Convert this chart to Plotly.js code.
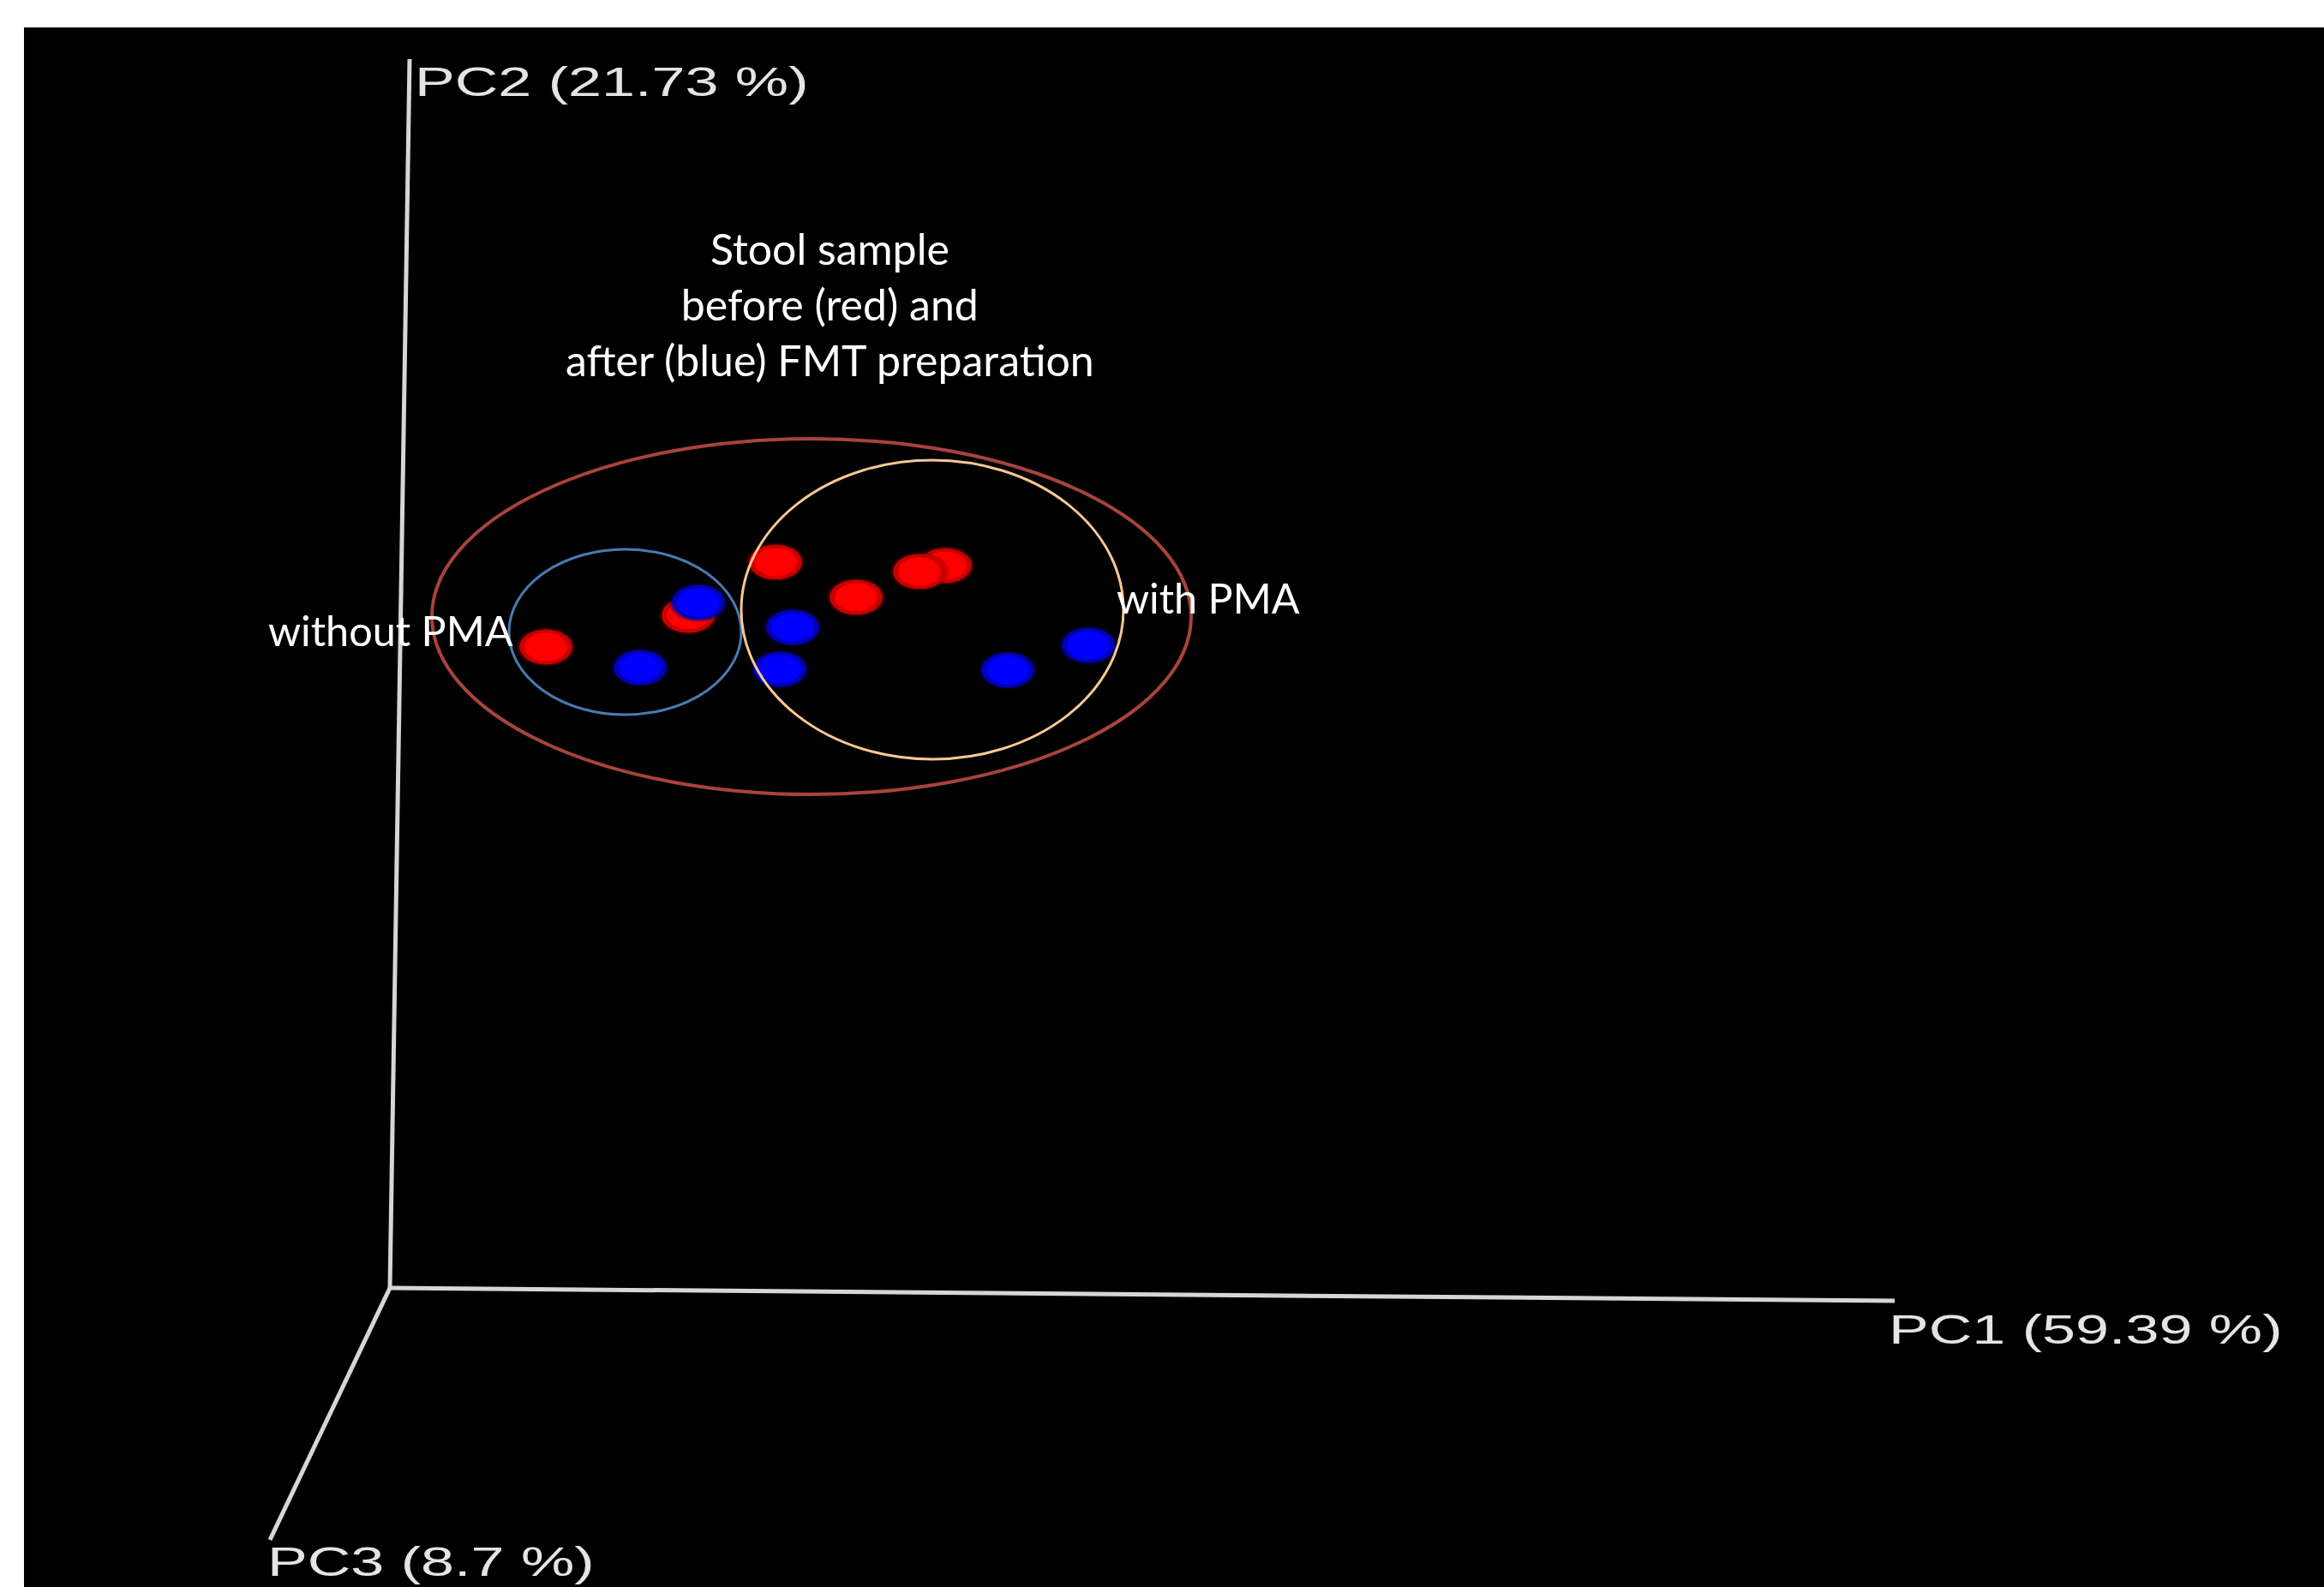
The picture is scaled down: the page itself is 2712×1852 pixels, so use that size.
<!DOCTYPE html>
<html>
<head>
<meta charset="utf-8">
<script src="https://cdn.plot.ly/plotly-3.0.1.min.js"></script>
<style>
  html, body { margin: 0; padding: 0; background: #ffffff; }
  #plot { width: 2712px; height: 1852px; }
</style>
</head>
<body>
<div id="plot"></div>
<script>
// PCoA ordination, projected view (PC1 to the right, PC2 up, PC3 toward the viewer)
const pcLabels = ['PC1 (59.39 %)', 'PC2 (21.73 %)', 'PC3 (8.7 %)'];
const axisEndX = [17.56, 0.23, -1.40];
const axisEndY = [-0.15, 14.34, -2.94];

// Stool samples before FMT preparation (red), back-to-front order
const beforeX = [6.48, 6.18, 4.50, 5.44, 1.82, 3.48];
const beforeY = [8.43, 8.36, 8.47, 8.06, 7.48, 7.85];
// Stool samples after FMT preparation (blue)
const afterX = [3.60, 4.70, 4.55, 2.92, 7.21, 8.15];
const afterY = [8.00, 7.71, 7.22, 7.24, 7.21, 7.50];

// Group outlines: all samples, without PMA, with PMA
const groupX0 = [0.49, 1.39, 4.10];
const groupX1 = [9.35, 4.10, 8.56];
const groupY0 = [5.76, 6.69, 6.17];
const groupY1 = [9.91, 8.62, 9.66];

const headerLines = ['Stool sample', 'before (red) and', 'after (blue) FMT preparation'];
const groupLabels = ['without PMA', 'with PMA'];

// ---- styling ----
const AXIS_COLOR = '#d6d6d6';
const LABEL_COLOR = '#e4e4e4';
const RING_COLORS = ['#a8433d', '#4a7ab2', '#f6c892'];
const RING_WIDTHS = [4, 3, 3];
const DOT_RX = 0.31, DOT_RY = 0.205;   // half-width / half-height of each sample dot
const STRETCH = 1.46;                   // horizontal stretch of the axis captions

const traces = [];
// axis lines from the origin
pcLabels.forEach((name, i) => {
  traces.push({
    type: 'scatter', mode: 'lines',
    x: [0, axisEndX[i]], y: [0, axisEndY[i]],
    line: { color: AXIS_COLOR, width: 5 },
    hoverinfo: 'skip', showlegend: false, name: name
  });
});
// sample positions (hover layer)
traces.push({
  type: 'scatter', mode: 'markers', name: 'before FMT preparation',
  x: beforeX, y: beforeY, marker: { color: '#ff0000', size: 40, opacity: 0 },
  showlegend: false
});
traces.push({
  type: 'scatter', mode: 'markers', name: 'after FMT preparation',
  x: afterX, y: afterY, marker: { color: '#0000ff', size: 40, opacity: 0 },
  showlegend: false
});

const shapes = [];
function addDot(cx, cy, edge, core, halo) {
  const layers = [
    { k: 1.10, c: halo, o: 0.35 },
    { k: 1.00, c: edge, o: 1 },
    { k: 0.80, c: core, o: 1 }
  ];
  layers.forEach(L => {
    shapes.push({
      type: 'circle', xref: 'x', yref: 'y', layer: 'above',
      x0: cx - DOT_RX * L.k, x1: cx + DOT_RX * L.k,
      y0: cy - DOT_RY * L.k, y1: cy + DOT_RY * L.k,
      fillcolor: L.c, opacity: L.o, line: { width: 0 }
    });
  });
}
beforeX.forEach((x, i) => addDot(x, beforeY[i], '#c80000', '#ff0000', '#800000'));
afterX.forEach((x, i) => addDot(x, afterY[i], '#0000b8', '#0000ff', '#000060'));

groupX0.forEach((x0, i) => {
  shapes.push({
    type: 'circle', xref: 'x', yref: 'y', layer: 'above',
    x0: x0, x1: groupX1[i], y0: groupY0[i], y1: groupY1[i],
    fillcolor: 'rgba(0,0,0,0)',
    line: { color: RING_COLORS[i], width: RING_WIDTHS[i] }
  });
});

const headerFont = { family: 'Lato, "Open Sans", sans-serif', size: 50, color: '#ffffff' };
const groupFont = { family: 'Lato, "Open Sans", sans-serif', size: 48.5, color: '#ffffff' };
const axisFont = { family: '"Liberation Sans", Arial, sans-serif', size: 48, color: LABEL_COLOR };

const annotations = [
  { x: 5.13, y: 11.48, text: headerLines.join('<br>'), xanchor: 'center', yanchor: 'middle',
    align: 'center', font: headerFont },
  { x: -1.44, y: 7.68, text: groupLabels[0], xanchor: 'left', yanchor: 'middle', align: 'left', font: groupFont },
  { x: 8.46, y: 8.06, text: groupLabels[1], xanchor: 'left', yanchor: 'middle', align: 'left', font: groupFont }
];
const FIRST_AXIS_LABEL = annotations.length;
const labelPos = [[17.47, -0.48], [0.27, 14.08], [-1.45, -3.19]];
pcLabels.forEach((t, i) => {
  annotations.push({
    x: labelPos[i][0], y: labelPos[i][1], text: t,
    xanchor: 'left', yanchor: 'middle', align: 'left', font: axisFont
  });
});
annotations.forEach(a => { a.xref = 'x'; a.yref = 'y'; a.showarrow = false; });

const layout = {
  width: 2712, height: 1852,
  paper_bgcolor: '#ffffff', plot_bgcolor: '#000000',
  margin: { l: 28, r: 0, t: 32, b: 0, pad: 0 },
  xaxis: { range: [-4.27, 22.57], visible: false, fixedrange: true },
  yaxis: { range: [-3.49, 14.71], visible: false, fixedrange: true },
  showlegend: false,
  shapes: shapes,
  annotations: annotations
};

// widen the axis captions horizontally around their left edge
function stretchAxisLabels(gd) {
  gd.querySelectorAll('g.annotation').forEach(g => {
    const idx = +g.getAttribute('data-index');
    if (idx < FIRST_AXIS_LABEL) return;
    const t = g.querySelector('text.annotation-text');
    if (!t) return;
    const x = parseFloat(t.getAttribute('x')) || 0;
    t.setAttribute('transform', 'translate(' + x + ',0) scale(' + STRETCH + ',1) translate(' + (-x) + ',0)');
  });
}

Plotly.newPlot('plot', traces, layout, { displayModeBar: false, staticPlot: true })
  .then(gd => { stretchAxisLabels(gd); gd.on('plotly_afterplot', () => stretchAxisLabels(gd)); });
</script>
</body>
</html>
